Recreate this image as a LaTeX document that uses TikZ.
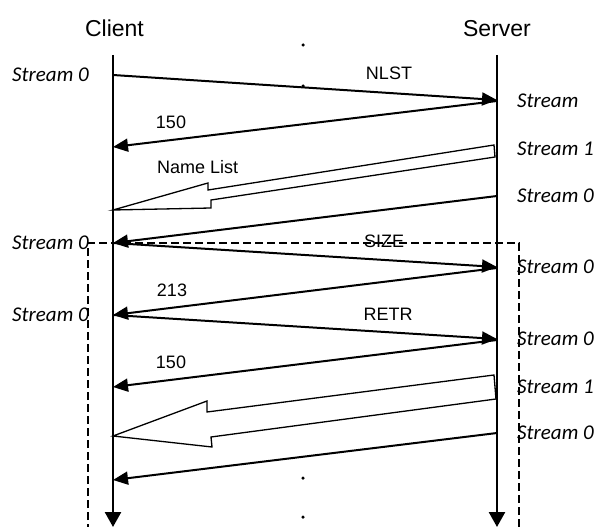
\documentclass[tikz,border=0pt]{standalone}
\usepackage{fontspec}
\setmainfont{Liberation Sans}
\newfontfamily\calibri{Carlito}
\usetikzlibrary{arrows.meta, calc}

\begin{document}
\begin{tikzpicture}[
    x=1pt, y=-1pt,
    party/.style={font=\fontsize{23}{27}\selectfont, inner sep=0pt, anchor=base},
    lbl/.style={font=\fontsize{18}{21}\selectfont, inner sep=0pt, anchor=base},
    stream/.style={font=\calibri\itshape\fontsize{21}{25}\selectfont, inner sep=0pt},
    lifeline/.style={-{Triangle[length=15pt, width=16pt]}, line width=2.5pt},
    msg/.style={-{Triangle[length=15pt, width=13pt]}, line width=2pt},
    bigmsg/.style={line width=1.3pt, fill=white, line join=miter},
    frame/.style={dash pattern=on 8pt off 4pt, line width=1.3pt},
    dot/.style={circle, fill=black, inner sep=0pt, minimum size=3.5pt}
]
\useasboundingbox (0,0) rectangle (597,527);

% === PARTIES ===
\node (client) [party] at (114.5,37) {Client};
\node (server) [party] at (497,37) {Server};

% === LIFELINES ===
\coordinate (ctop) at (113,55);
\coordinate (cbot) at (113,527);
\coordinate (stop) at (497,55);
\coordinate (sbot) at (497,527);

% === DASHED FRAME ===
\coordinate (fl) at (88,532);
\coordinate (fr) at (519,532);
\draw [frame] (fl) |- (fr |- 0,243) -- (fr);

\draw [lifeline] (ctop) -- (cbot);
\draw [lifeline] (stop) -- (sbot);

% === MESSAGE POINTS ===
\coordinate (c1) at (113,75);   \coordinate (s1) at (497,100);
\coordinate (s2) at (497,101);  \coordinate (c2) at (113,147);
\coordinate (s4) at (497,196);  \coordinate (c4) at (113,243);
\coordinate (s5) at (497,267);
\coordinate (s6) at (497,268);  \coordinate (c6) at (113,315);
\coordinate (s7) at (497,339);
\coordinate (s8) at (497,340);  \coordinate (c8) at (113,387);
\coordinate (s10) at (497,433); \coordinate (c10) at (113,480);

% === MESSAGES ===
\draw [msg] (c1) -- (s1);
\draw [msg] (s2) -- (c2);
\draw [msg] (s4) -- (c4);
\draw [msg] (c4) -- (s5);
\draw [msg] (s6) -- (c6);
\draw [msg] (c6) -- (s7);
\draw [msg] (s8) -- (c8);
\draw [msg] (s10) -- (c10);

% === DATA TRANSFERS (hollow arrows) ===
\coordinate (tip1) at (113,210);
\coordinate (tail1a) at (494,145);
\coordinate (tail1b) at (495,157);
\draw [bigmsg] (tail1a) -- ($(tip1)+(95,-20)$) -- ($(tip1)+(95,-27)$) -- (tip1)
    -- ($(tip1)+(98,-2)$) -- ($(tip1)+(98,-10)$) -- (tail1b) -- cycle;

\coordinate (tip2) at (113,436);
\coordinate (tail2a) at (494,375);
\coordinate (tail2b) at (496,399);
\draw [bigmsg] (tail2a) -- ($(tip2)+(94,-24)$) -- ($(tip2)+(94,-35)$) -- (tip2)
    -- ($(tip2)+(99,11)$) -- ($(tip2)+(98,1)$) -- (tail2b) -- cycle;

% === LABELS ===
\node (nlst) [lbl] at (389,80) {NLST};
\node (ok1) [lbl] at (171,128) {150};
\node (names) [lbl, anchor=base west] at (157,173) {Name List};
\node (size) [lbl] at (384,247) {SIZE};
\node (ok2) [lbl] at (172,296) {213};
\node (retr) [lbl] at (388,320) {RETR};
\node (ok3) [lbl] at (171,368) {150};

% === STREAMS ===
\node (cs1) [stream, anchor=west] at (12,75) {Stream 0};
\node (cs2) [stream, anchor=west] at (12,243) {Stream 0};
\node (cs3) [stream, anchor=west] at (12,315) {Stream 0};
\node (ss1) [stream, anchor=west] at (517,101) {Stream};
\node (ss2) [stream, anchor=west] at (517,149) {Stream 1};
\node (ss3) [stream, anchor=west] at (517,196) {Stream 0};
\node (ss4) [stream, anchor=west] at (517,267) {Stream 0};
\node (ss5) [stream, anchor=west] at (517,339) {Stream 0};
\node (ss6) [stream, anchor=west] at (517,387) {Stream 1};
\node (ss7) [stream, anchor=west] at (517,433) {Stream 0};

% === DOTS ===
\foreach \y [count=\i] in {45,86,478,517}
    \node (dot\i) [dot] at (303,\y) {};

\end{tikzpicture}
\end{document}
